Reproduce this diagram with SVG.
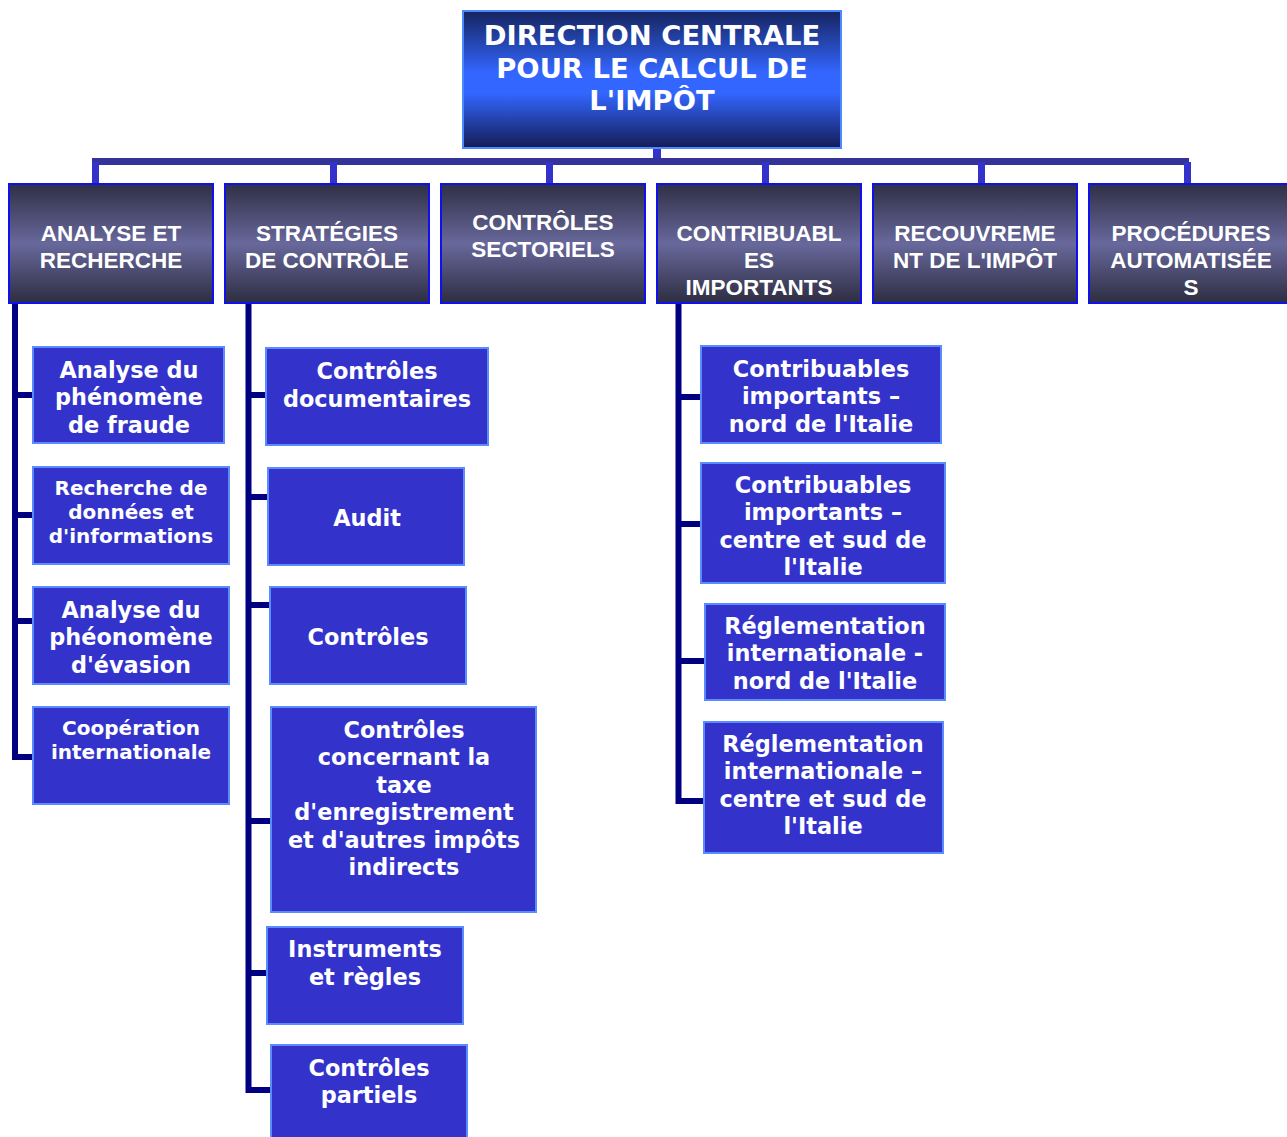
<svg xmlns="http://www.w3.org/2000/svg" width="1287" height="1137" viewBox="0 0 1287 1137">
<defs>
<linearGradient id="gTop" x1="0" y1="0" x2="0" y2="1">
<stop offset="0" stop-color="#16245e"/>
<stop offset="0.45" stop-color="#3366ff"/>
<stop offset="0.6" stop-color="#3366ff"/>
<stop offset="1" stop-color="#141c55"/>
</linearGradient>
<linearGradient id="gHead" x1="0" y1="0" x2="0" y2="1">
<stop offset="0" stop-color="#2f2f45"/>
<stop offset="0.5" stop-color="#68689c"/>
<stop offset="1" stop-color="#2d2d42"/>
</linearGradient>
</defs>
<style>
.top{fill:url(#gTop);stroke:#4d88ff;stroke-width:2}
.head{fill:url(#gHead);stroke:#1010ee;stroke-width:2}
.child{fill:#3333cc;stroke:#5a8cff;stroke-width:2}
.tt{font-family:"DejaVu Sans",Verdana,sans-serif;font-weight:bold;font-size:27.4px;fill:#fff;text-anchor:middle}
.ht{font-family:"Liberation Sans",Arial,sans-serif;font-weight:bold;font-size:22.5px;fill:#fff;text-anchor:middle}
.ct{font-family:"DejaVu Sans",Verdana,sans-serif;font-weight:bold;font-size:22.4px;fill:#fff;text-anchor:middle}
.cs{font-size:20px}
.bus{fill:#333399}
.stub{fill:#3333cc}
.vl{fill:none;stroke:#000080;stroke-width:6}
</style>
<g id="connectors">
<rect class="stub" x="653" y="148" width="8" height="11"/>
<rect class="bus" x="92" y="158" width="1097" height="7"/>
<rect class="stub" x="92" y="162" width="7" height="21"/>
<rect class="stub" x="330" y="162" width="7" height="21"/>
<rect class="stub" x="546" y="162" width="7" height="21"/>
<rect class="stub" x="762" y="162" width="7" height="21"/>
<rect class="stub" x="978" y="162" width="7" height="21"/>
<rect class="stub" x="1184" y="162" width="7" height="21"/>
<path class="vl" d="M15 303 V757 H33 M15 395 H33 M15 515 H33 M15 621 H33"/>
<path class="vl" d="M248.5 303 V1090 H270 M248.5 395 H266 M248.5 497 H268 M248.5 605 H269 M248.5 821 H270 M248.5 973 H266"/>
<path class="vl" d="M678.5 303 V801 H703 M678.5 397 H700 M678.5 524 H700 M678.5 661 H704"/>
</g>
<g id="n-direction">
<rect class="top" x="463" y="11" width="378" height="137"/>
<text class="tt" x="652" y="45">DIRECTION CENTRALE</text>
<text class="tt" x="652" y="78">POUR LE CALCUL DE</text>
<text class="tt" x="652" y="110">L'IMPÔT</text>
</g>
<g id="n-analyse">
<rect class="head" x="9" y="184" width="204" height="119"/>
<text class="ht" x="111" y="241">ANALYSE ET</text>
<text class="ht" x="111" y="268">RECHERCHE</text>
</g>
<g id="n-strategies">
<rect class="head" x="225" y="184" width="204" height="119"/>
<text class="ht" x="327" y="241">STRATÉGIES</text>
<text class="ht" x="327" y="268">DE CONTRÔLE</text>
</g>
<g id="n-sectoriels">
<rect class="head" x="441" y="184" width="204" height="119"/>
<text class="ht" x="543" y="230">CONTRÔLES</text>
<text class="ht" x="543" y="257">SECTORIELS</text>
</g>
<g id="n-contribuables">
<rect class="head" x="657" y="184" width="204" height="119"/>
<text class="ht" x="759" y="241">CONTRIBUABL</text>
<text class="ht" x="759" y="268">ES</text>
<text class="ht" x="759" y="295">IMPORTANTS</text>
</g>
<g id="n-recouvrement">
<rect class="head" x="873" y="184" width="204" height="119"/>
<text class="ht" x="975" y="241">RECOUVREME</text>
<text class="ht" x="975" y="268">NT DE L'IMPÔT</text>
</g>
<g id="n-procedures">
<rect class="head" x="1089" y="184" width="204" height="119"/>
<text class="ht" x="1191" y="241">PROCÉDURES</text>
<text class="ht" x="1191" y="268">AUTOMATISÉE</text>
<text class="ht" x="1191" y="295">S</text>
</g>
<g id="n-fraude">
<rect class="child" x="33" y="347" width="191" height="96"/>
<text class="ct" x="129" y="378">Analyse du</text>
<text class="ct" x="129" y="405">phénomène</text>
<text class="ct" x="129" y="433">de fraude</text>
</g>
<g id="n-recherche">
<rect class="child" x="33" y="467" width="196" height="97"/>
<text class="ct cs" x="131" y="495">Recherche de</text>
<text class="ct cs" x="131" y="519">données et</text>
<text class="ct cs" x="131" y="543">d'informations</text>
</g>
<g id="n-evasion">
<rect class="child" x="33" y="587" width="196" height="97"/>
<text class="ct" x="131" y="618">Analyse du</text>
<text class="ct" x="131" y="645">phéonomène</text>
<text class="ct" x="131" y="673">d'évasion</text>
</g>
<g id="n-cooperation">
<rect class="child" x="33" y="707" width="196" height="97"/>
<text class="ct cs" x="131" y="735">Coopération</text>
<text class="ct cs" x="131" y="759">internationale</text>
</g>
<g id="n-documentaires">
<rect class="child" x="266" y="348" width="222" height="97"/>
<text class="ct" x="377" y="379">Contrôles</text>
<text class="ct" x="377" y="407">documentaires</text>
</g>
<g id="n-audit">
<rect class="child" x="268" y="468" width="196" height="97"/>
<text class="ct" x="367" y="526">Audit</text>
</g>
<g id="n-controles">
<rect class="child" x="270" y="587" width="196" height="97"/>
<text class="ct" x="368" y="645">Contrôles</text>
</g>
<g id="n-taxe">
<rect class="child" x="271" y="707" width="265" height="205"/>
<text class="ct" x="404" y="738">Contrôles</text>
<text class="ct" x="404" y="765">concernant la</text>
<text class="ct" x="404" y="793">taxe</text>
<text class="ct" x="404" y="820">d'enregistrement</text>
<text class="ct" x="404" y="848">et d'autres impôts</text>
<text class="ct" x="404" y="875">indirects</text>
</g>
<g id="n-instruments">
<rect class="child" x="267" y="927" width="196" height="97"/>
<text class="ct" x="365" y="957">Instruments</text>
<text class="ct" x="365" y="985">et règles</text>
</g>
<g id="n-partiels">
<rect class="child" x="271" y="1045" width="196" height="100"/>
<text class="ct" x="369" y="1076">Contrôles</text>
<text class="ct" x="369" y="1103">partiels</text>
</g>
<g id="n-ci-nord">
<rect class="child" x="701" y="346" width="240" height="97"/>
<text class="ct" x="821" y="377">Contribuables</text>
<text class="ct" x="821" y="404">importants –</text>
<text class="ct" x="821" y="432">nord de l'Italie</text>
</g>
<g id="n-ci-sud">
<rect class="child" x="701" y="463" width="244" height="120"/>
<text class="ct" x="823" y="493">Contribuables</text>
<text class="ct" x="823" y="520">importants –</text>
<text class="ct" x="823" y="548">centre et sud de</text>
<text class="ct" x="823" y="575">l'Italie</text>
</g>
<g id="n-ri-nord">
<rect class="child" x="705" y="604" width="240" height="96"/>
<text class="ct" x="825" y="634">Réglementation</text>
<text class="ct" x="825" y="661">internationale -</text>
<text class="ct" x="825" y="689">nord de l'Italie</text>
</g>
<g id="n-ri-sud">
<rect class="child" x="704" y="722" width="239" height="131"/>
<text class="ct" x="823" y="752">Réglementation</text>
<text class="ct" x="823" y="779">internationale –</text>
<text class="ct" x="823" y="807">centre et sud de</text>
<text class="ct" x="823" y="834">l'Italie</text>
</g>
</svg>
